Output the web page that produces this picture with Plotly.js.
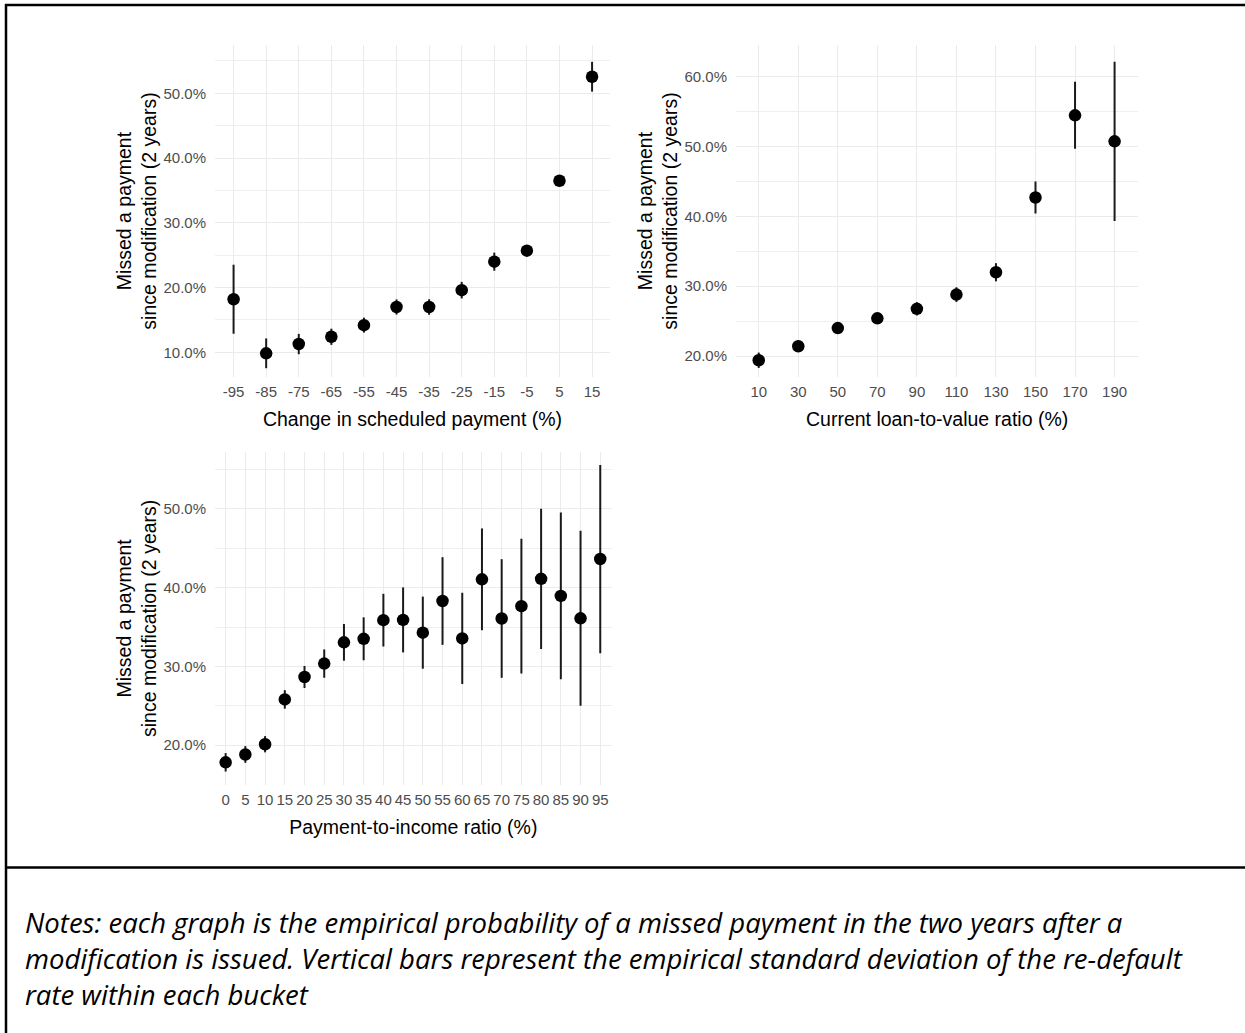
<!DOCTYPE html>
<html>
<head>
<meta charset="utf-8">
<script src="https://cdn.plot.ly/plotly-3.0.1.min.js"></script>
<style>
  html, body { margin: 0; padding: 0; background: #fff; }
  #chart { width: 1245px; height: 1033px; }
</style>
</head>
<body>
<div id="chart"></div>
<script>
// ---- Data ----
// Panel 1: change in scheduled payment (%)
const changeX = [-95, -85, -75, -65, -55, -45, -35, -25, -15, -5, 5, 15];
const changeRate = [18.2, 9.85, 11.28, 12.4, 14.2, 17.0, 17.0, 19.6, 24.0, 25.7, 36.5, 52.56];
const changeSd = [5.33, 2.3, 1.57, 1.25, 1.15, 1.17, 1.2, 1.28, 1.4, 0.5, 0.5, 2.3];

// Panel 2: current loan-to-value ratio (%)
const ltvX = [10, 30, 50, 70, 90, 110, 130, 150, 170, 190];
const ltvRate = [19.4, 21.4, 24.0, 25.4, 26.76, 28.8, 32.0, 42.7, 54.47, 50.74];
const ltvSd = [1.1, 0.8, 0.5, 0.4, 0.95, 1.05, 1.3, 2.3, 4.8, 11.4];

// Panel 3: payment-to-income ratio (%)
const ptiX = [0, 5, 10, 15, 20, 25, 30, 35, 40, 45, 50, 55, 60, 65, 70, 75, 80, 85, 90, 95];
const ptiRate = [17.8, 18.8, 20.1, 25.8, 28.65, 30.35, 33.05, 33.5, 35.87, 35.9, 34.28, 38.3, 33.55, 41.06, 36.08, 37.65, 41.12, 38.95, 36.1, 43.64];
const ptiSd = [1.17, 1.06, 1.03, 1.18, 1.4, 1.8, 2.33, 2.73, 3.35, 4.13, 4.58, 5.57, 5.8, 6.47, 7.54, 8.56, 8.92, 10.6, 11.12, 11.96];

const yTitle = 'Missed a payment<br>since modification (2 years)';
const xTitles = ['Change in scheduled payment (%)', 'Current loan-to-value ratio (%)', 'Payment-to-income ratio (%)'];
const noteLines = [
  'Notes: each graph is the empirical probability of a missed payment in the two years after a',
  'modification is issued. Vertical bars represent the empirical standard deviation of the re-default',
  'rate within each bucket'
];

// ---- Styling ----
const W = 1245, H = 1033;
const FONT = 'Liberation Sans, Arial, sans-serif';
const GRID = '#ebebeb';
const px = v => v / W;
const py = v => 1 - v / H;

function trace(x, y, sd, xa, ya) {
  return {
    type: 'scatter', mode: 'markers', x: x, y: y,
    xaxis: xa, yaxis: ya,
    marker: { color: '#000', size: 12.5 },
    error_y: { type: 'data', array: sd, visible: true, width: 0, thickness: 2, color: '#1a1a1a' },
    hoverinfo: 'x+y', showlegend: false
  };
}

function xAxis(domain, range, vals, title, anchor) {
  return {
    domain: domain, range: range, anchor: anchor,
    tickmode: 'array', tickvals: vals, ticktext: vals.map(String),
    showgrid: true, gridcolor: GRID, gridwidth: 1,
    zeroline: false, showline: false, ticks: '',
    ticklabelstandoff: 4,
    tickfont: { family: FONT, size: 15, color: '#4d4d4d' },
    title: { text: title, font: { family: FONT, size: 19.5, color: '#000' }, standoff: 13 },
    fixedrange: true
  };
}

function yAxis(domain, range, anchor) {
  return {
    domain: domain, range: range, anchor: anchor,
    tick0: 0, dtick: 10, tickformat: '.1f', ticksuffix: '%',
    showgrid: true, gridcolor: GRID, gridwidth: 1,
    minor: { tick0: 0, dtick: 5, showgrid: true, gridcolor: GRID, gridwidth: 0.8, ticks: '' },
    zeroline: false, showline: false, ticks: '',
    ticklabelstandoff: 8,
    tickfont: { family: FONT, size: 15, color: '#4d4d4d' },
    title: { text: yTitle, font: { family: FONT, size: 19.5, color: '#000' }, standoff: 1 },
    fixedrange: true
  };
}

const data = [
  trace(changeX, changeRate, changeSd, 'x', 'y'),
  trace(ltvX, ltvRate, ltvSd, 'x2', 'y2'),
  trace(ptiX, ptiRate, ptiSd, 'x3', 'y3')
];

const layout = {
  width: W, height: H,
  margin: { l: 0, r: 0, t: 0, b: 0 },
  paper_bgcolor: '#fff', plot_bgcolor: '#fff',
  showlegend: false,
  xaxis: xAxis([px(215), px(610)], [-100.7, 20.5], changeX, xTitles[0], 'y'),
  yaxis: yAxis([py(377), py(45)], [6.19, 57.46], 'x'),
  xaxis2: xAxis([px(736), px(1138.3)], [-1.5, 202], ltvX, xTitles[1], 'y2'),
  yaxis2: yAxis([py(377), py(45)], [17.0, 64.54], 'x2'),
  xaxis3: xAxis([px(215), px(611.7)], [-2.7, 97.9], ptiX, xTitles[2], 'y3'),
  yaxis3: yAxis([py(785), py(451.7)], [14.92, 57.28], 'x3'),
  shapes: [
    { type: 'line', xref: 'paper', yref: 'paper', x0: px(6), x1: px(6), y0: py(4), y1: 0, line: { color: '#000', width: 2.5 } },
    { type: 'line', xref: 'paper', yref: 'paper', x0: px(5), x1: 1, y0: py(5), y1: py(5), line: { color: '#000', width: 2.5 } },
    { type: 'line', xref: 'paper', yref: 'paper', x0: px(5), x1: 1, y0: py(867.5), y1: py(867.5), line: { color: '#000', width: 2.5 } }
  ],
  annotations: [{
    xref: 'paper', yref: 'paper', x: px(23), y: py(958),
    xanchor: 'left', yanchor: 'middle', align: 'left', showarrow: false,
    text: noteLines.map(t => '<i>' + t + '</i>').join('<br>'),
    font: { family: 'Open Sans, sans-serif', size: 27.5, color: '#000' }
  }]
};

Plotly.newPlot('chart', data, layout, { displayModeBar: false, staticPlot: true });
</script>
</body>
</html>
